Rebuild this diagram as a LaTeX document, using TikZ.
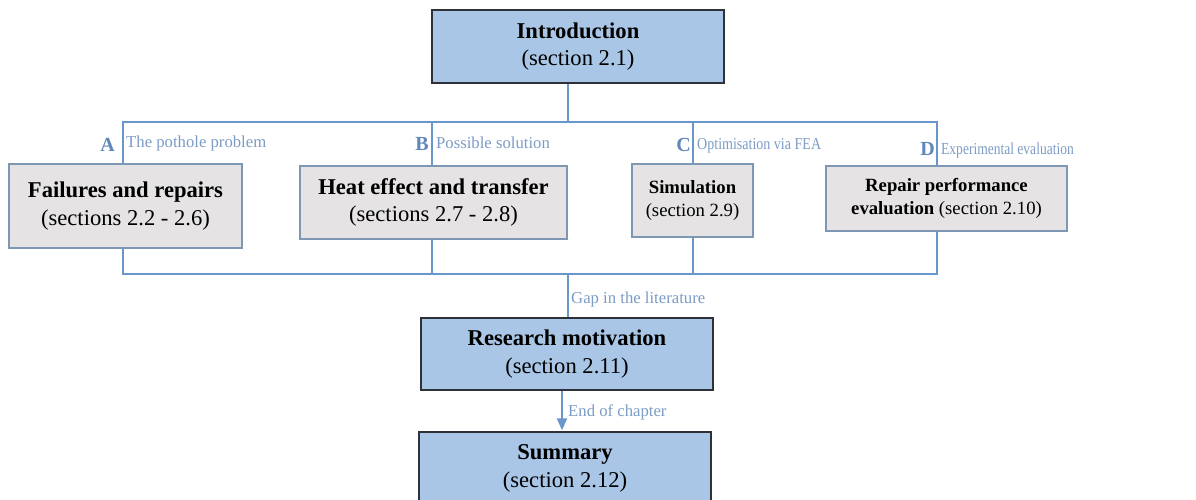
\documentclass[tikz,border=0pt]{standalone}
\usepackage{fontspec}
\usepackage{graphicx}
\setmainfont{Liberation Serif}
\usetikzlibrary{arrows.meta}

\definecolor{boxblue}{HTML}{A9C6E6}
\definecolor{darkedge}{HTML}{2E3238}
\definecolor{boxgray}{HTML}{E5E3E3}
\definecolor{grayedge}{HTML}{7E97B3}
\definecolor{busline}{HTML}{6A97C9}
\definecolor{tagcol}{HTML}{7C9CC6}
\definecolor{lettercol}{HTML}{6088BA}

\begin{document}
\begin{tikzpicture}[x=1pt,y=-1pt,
  bus/.style={draw=busline, line width=2.2pt},
  mainbox/.style={rectangle, draw=darkedge, fill=boxblue, line width=1.3pt,
    inner sep=0pt, align=center, font=\fontsize{22.6}{27.5}\selectfont},
  topicbox/.style={rectangle, draw=grayedge, fill=boxgray, line width=1.3pt,
    inner sep=0pt, align=center, font=\fontsize{22.6}{27.5}\selectfont},
  smalltopic/.style={topicbox, font=\fontsize{18.7}{23}\selectfont},
  tag/.style={text=tagcol, font=\fontsize{16.7}{16.7}\selectfont, inner sep=0pt, anchor=west},
  letter/.style={text=lettercol, font=\fontsize{20}{20}\selectfont\bfseries, inner sep=0pt, anchor=east}]

\clip (0,0) rectangle (1196,499);
\fill[white] (0,0) rectangle (1196,499);

% bus junctions
\coordinate (tA) at (123,122);
\coordinate (tB) at (432,122);
\coordinate (tC) at (693,122);
\coordinate (tD) at (937,122);
\coordinate (bA) at (123,274);
\coordinate (bB) at (432,274);
\coordinate (bC) at (693,274);
\coordinate (bD) at (937,274);
\coordinate (split) at (568,122);
\coordinate (join) at (568,274);
\coordinate (endx) at (562,0);

% top and bottom boxes
\node[mainbox, minimum width=292pt, minimum height=73pt] (intro) at (578,46.5)
  {\textbf{Introduction}\\(section 2.1)};
\node[mainbox, minimum width=292pt, minimum height=72pt] (research) at (567,354)
  {\textbf{Research motivation}\\(section 2.11)};
\node[mainbox, minimum width=292pt, minimum height=73pt] (summary) at (565,468.5)
  {\textbf{Summary}\\(section 2.12)};

% connectors behind the topic boxes
\draw[bus] (intro.south -| split) -- (split);
\draw[bus] (tA) rectangle (bD);
\draw[bus] (tB) -- (bB);
\draw[bus] (tC) -- (bC);
\draw[bus] (join) -- (join |- research.north);
\draw[bus, -{Triangle[length=12pt,width=10pt]}] (research.south -| endx) -- ([yshift=1pt]summary.north -| endx);

% literature topics
\node[topicbox, minimum width=233pt, minimum height=84pt] (fail) at (125.5,206)
  {\textbf{Failures and repairs}\\(sections 2.2 - 2.6)};
\node[topicbox, minimum width=267pt, minimum height=73pt] (heat) at (433.5,202.5)
  {\textbf{Heat effect and transfer}\\(sections 2.7 - 2.8)};
\node[smalltopic, minimum width=121pt, minimum height=73pt] (sim) at (692.5,200.5)
  {\textbf{Simulation}\\(section 2.9)};
\node[smalltopic, minimum width=241pt, minimum height=65pt] (repair) at (946.5,198.5)
  {\textbf{Repair performance}\\\textbf{evaluation} (section 2.10)};

% branch letters and captions
\node[letter] (letA) at (115,145) {A};
\node[tag] (capA) at (126,143) {The pothole problem};
\node[letter] (letB) at (429,144) {B};
\node[tag] (capB) at (436,143) {Possible solution};
\node[letter] (letC) at (691,145) {C};
\node[tag] (capC) at (697,146) {\scalebox{0.84}[1]{Optimisation via FEA}};
\node[tag] (capD) at (941,150) {\scalebox{0.81}[1]{Experimental evaluation}};
\node[letter] (letD) at (935,149) {D};
\node[tag] (capGap) at (571,299) {Gap in the literature};
\node[tag] (capEnd) at (568,412) {End of chapter};
\end{tikzpicture}
\end{document}
